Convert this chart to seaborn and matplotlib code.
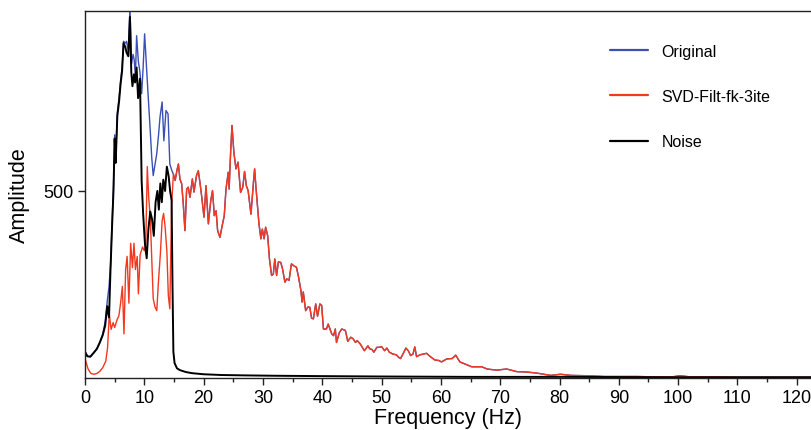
import numpy as np
import pandas as pd
import matplotlib
matplotlib.use("Agg")
import matplotlib.pyplot as plt
import seaborn as sns
from matplotlib.ticker import MultipleLocator

# ---------------- data ----------------
noise_f = [0, 0.4, 0.9, 1.5, 2.0, 2.5, 3.0, 3.4, 3.75, 4.05, 4.3, 4.55, 4.8, 5.0, 5.17, 5.45,
           5.75, 6.0, 6.25, 6.5, 6.8, 7.0, 7.3, 7.58, 7.8, 8.0, 8.26, 8.45, 8.7, 8.95, 9.27,
           9.55, 9.8, 10.1, 10.4, 10.7, 11.0, 11.3, 11.6, 11.9, 12.2, 12.45, 12.7, 12.95, 13.2,
           13.5, 13.8, 14.1, 14.35, 14.6, 14.75, 14.9, 15.1, 15.5, 16, 17, 18, 20, 23, 27, 32,
           40, 50, 65, 80, 100, 123]
noise_a = [70, 58, 57, 68, 78, 95, 115, 140, 192, 162, 290, 400, 500, 640, 575, 700,
           740, 786, 820, 895, 885, 870, 860, 965, 818, 780, 812, 790, 830, 748, 800,
           527, 440, 360, 320, 400, 445, 425, 380, 470, 500, 450, 520, 470, 530,
           500, 565, 540, 500, 475, 250, 70, 40, 26, 21, 16, 13, 10, 8, 7, 6,
           5, 4, 3, 3, 2, 2]

orig_low_f = [0, 0.4, 0.9, 1.5, 2.0, 2.5, 3.0, 3.4, 3.75, 4.05, 4.3, 4.55, 4.8, 5.0, 5.17,
              5.45, 5.75, 6.0, 6.25, 6.5, 6.8, 7.0, 7.3, 7.58, 7.85, 8.1, 8.3, 8.5, 8.7, 9.0,
              9.25, 9.55, 9.8, 10.05, 10.4, 10.7, 11.0, 11.25, 11.5, 11.8, 12.1, 12.4, 12.65,
              13.0, 13.3, 13.65, 14.0, 14.3, 14.65]
orig_low_a = [70, 58, 57, 68, 78, 95, 118, 150, 205, 245, 300, 410, 510, 650, 590,
              710, 750, 795, 830, 900, 895, 900, 875, 990, 840, 865, 850, 805, 915, 845,
              820, 760, 830, 920, 822, 740, 661, 590, 541, 570, 600, 650, 698,
              738, 634, 715, 706, 572, 554]

svd_f = [0, 0.5, 1.0, 1.5, 2.0, 2.5, 3.0, 3.5, 3.8, 4.1, 4.4, 4.75, 5.0, 5.45, 5.7, 6.0,
         6.3, 6.57, 6.85, 7.1, 7.4, 7.7, 8.0, 8.26, 8.5, 8.8, 9.0, 9.3, 9.7, 10.0, 10.25,
         10.5, 10.75, 11.0, 11.3, 11.5, 11.8, 12.1, 12.4, 12.7, 13.0, 13.25, 13.5, 13.8,
         14.05, 14.3, 14.6, 14.9, 15.2, 15.5, 15.75, 16.0, 16.3, 16.57, 16.85, 17.14, 17.4,
         17.7, 18.1, 18.37, 18.8, 19.1, 19.4, 19.66, 20.06, 20.4, 20.8, 21.2, 21.5, 21.8,
         22.1, 22.36, 22.75, 23.1, 23.48, 23.77, 24.15, 24.3, 24.55, 24.78, 25.1, 25.45,
         25.8, 26.0, 26.23, 26.6, 26.9, 27.2, 27.5, 27.98, 28.4, 28.6, 28.8, 29.1, 29.33,
         29.66, 29.9, 30.2, 30.45, 30.8, 31.1, 31.46, 31.75, 32.0, 32.3, 32.6, 33.0, 33.3,
         33.7, 34.0, 34.4, 34.8, 35.2, 35.65, 36.0, 36.4, 36.6, 36.8, 37.2, 37.6, 37.9,
         38.2, 38.5, 38.9, 39.2, 39.6, 39.9, 40.2, 40.7, 41.0, 41.3, 41.6, 41.9, 42.2,
         42.4, 42.9, 43.3, 43.9, 44.3, 44.8, 45.2, 45.6, 45.9, 46.4, 46.6, 47.1, 47.7,
         48.0, 48.4, 48.7, 49.2, 49.6, 50.0, 50.5, 50.9, 51.3, 51.9, 52.5, 52.9, 53.2,
         53.8, 54.1, 54.5, 54.9, 55.3, 55.6, 55.9, 56.5, 57.0, 57.6, 58.0, 58.4, 59.0,
         59.6, 60.1, 61.0, 61.9, 62.5, 63.2, 64.3, 65.2, 66.9, 67.8, 69.4, 71.1, 72.8,
         74.5, 76.2, 78.5, 80.2, 81.9, 84.7, 87.6, 90, 93, 96, 99, 100.3, 102, 106, 110,
         115, 123]
svd_a = [52, 25, 12, 10, 12, 18, 28, 45, 80, 170, 130, 148, 135, 158, 165, 200,
         245, 118, 290, 325, 200, 360, 295, 360, 290, 325, 225, 330, 350, 340, 360,
         565, 480, 430, 300, 212, 190, 180, 262, 330, 420, 440, 405, 340,
         220, 185, 460, 545, 528, 555, 572, 532, 519, 465, 394, 505, 510,
         483, 532, 497, 541, 554, 520, 487, 430, 514, 412, 474, 501, 434,
         447, 394, 376, 405, 434, 505, 550, 505, 603, 675, 603, 559,
         577, 540, 496, 510, 552, 514, 501, 438, 523, 559, 514, 455, 412,
         372, 398, 372, 403, 380, 318, 274, 278, 318, 274, 310, 309, 292,
         256, 265, 261, 305, 300, 296, 270, 234, 203, 230, 180, 190, 189,
         160, 158, 198, 165, 198, 194, 131, 131, 144, 131, 118, 113, 131,
         95, 122, 131, 127, 98, 109, 105, 95, 100, 91, 86, 73, 86,
         78, 76, 69, 82, 82, 84, 73, 80, 69, 64, 62, 55, 52,
         70, 80, 73, 60, 64, 83, 57, 62, 64, 66, 60, 55, 48,
         47, 43, 51, 52, 61, 43, 36, 30, 30, 24, 21, 24, 17,
         16, 13, 7, 10, 7, 6, 4, 4, 4, 3, 3, 6, 3, 3, 2,
         2, 2]

series_names = ["Original", "SVD-Filt-fk-3ite", "Noise"]
series_colors = ["#3b4fb5", "#f2381f", "#000000"]

# Original above ~15 Hz coincides with the filtered trace
orig_f = orig_low_f + [f for f in svd_f if f >= 14.9]
orig_a = orig_low_a + [a for f, a in zip(svd_f, svd_a) if f >= 14.9]

df = pd.concat([
    pd.DataFrame({"Frequency": orig_f, "Amplitude": orig_a, "series": series_names[0]}),
    pd.DataFrame({"Frequency": svd_f, "Amplitude": svd_a, "series": series_names[1]}),
    pd.DataFrame({"Frequency": noise_f, "Amplitude": noise_a, "series": series_names[2]}),
], ignore_index=True)

# ---------------- plotting ----------------
sns.set_style("ticks")
plt.rcParams["font.family"] = ["Liberation Sans", "DejaVu Sans"]
plt.rcParams["text.color"] = "black"
plt.rcParams["axes.labelcolor"] = "black"
plt.rcParams["xtick.color"] = "black"
plt.rcParams["ytick.color"] = "black"

fig = plt.figure(figsize=(8.11, 4.31), dpi=100)
ax = fig.add_axes([85 / 811, 1 - 379 / 431, 1 - 85 / 811, (379 - 12) / 431])

widths = [1.0, 1.0, 1.4]
for name, col, lw in zip(series_names, series_colors, widths):
    sns.lineplot(data=df[df["series"] == name], x="Frequency", y="Amplitude",
                 color=col, linewidth=lw, label=name, ax=ax,
                 estimator=None, sort=False)

ax.set_xlim(0, 122.4)
ax.set_ylim(0, 981)
ax.set_xticks(np.arange(0, 121, 10))
ax.xaxis.set_minor_locator(MultipleLocator(5))
ax.set_yticks([500])
ax.tick_params(axis="both", which="major", length=5, width=1, labelsize=13,
               color="#222222", labelcolor="black", pad=3)
ax.tick_params(axis="x", which="minor", length=3, width=1, color="#222222")
for s in ["left", "bottom", "top"]:
    ax.spines[s].set_color("#222222")
    ax.spines[s].set_linewidth(1.0)
ax.spines["right"].set_visible(False)

ax.set_xlabel("Frequency (Hz)", fontsize=15.5, labelpad=1)
ax.set_ylabel("Amplitude", fontsize=15.5, labelpad=10)

leg = ax.legend(loc="upper left", bbox_to_anchor=(0.703, 0.95), frameon=False,
                fontsize=11.5, handlelength=2.4, labelspacing=1.9, handletextpad=0.85)
for line in leg.get_lines():
    line.set_linewidth(1.6)

fig.savefig("out.png", dpi=100)
